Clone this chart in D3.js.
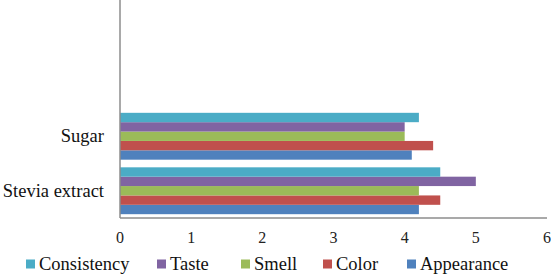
<!DOCTYPE html>
<html>
<head>
<meta charset="utf-8">
<script src="https://cdn.jsdelivr.net/npm/d3@7"></script>
<style>
  body { margin: 0; background: #fff; }
</style>
</head>
<body>
<svg width="551" height="274"></svg>
<script>
var width = 551, height = 274;

// data
var categories = ["Sugar", "Stevia extract"];
var series = ["Appearance", "Color", "Smell", "Taste", "Consistency"];
var sugarValues = [4.1, 4.4, 4.0, 4.0, 4.2];
var steviaValues = [4.2, 4.5, 4.2, 5.0, 4.5];
var xTicks = [0, 1, 2, 3, 4, 5, 6];
var legendOrder = ["Consistency", "Taste", "Smell", "Color", "Appearance"];

var colors = {
  Appearance: "#4F81BD",
  Color: "#C0504D",
  Smell: "#9BBB59",
  Taste: "#8064A2",
  Consistency: "#4BACC6"
};

var valuesByCat = {
  "Sugar": sugarValues,
  "Stevia extract": steviaValues
};

var font = "'Liberation Serif', 'Times New Roman', 'DejaVu Serif', serif";

var left = 120, right = 547, axisY = 218;
// plot has 4 category slots, only the lower two are in view
var slots = 4;
var step = axisY / slots;

var svg = d3.select("svg");

var x = d3.scaleLinear()
    .domain([0, 6])
    .range([left, right]);

var y = d3.scaleBand()
    .domain(categories)
    .range([axisY - categories.length * step, axisY])
    .paddingInner(0.14)
    .paddingOuter(0.07);

// Consistency drawn on top of each group, Appearance at the bottom
var ySub = d3.scaleBand()
    .domain(series.slice().reverse())
    .range([0, y.bandwidth()]);

// bars
var groups = svg.selectAll("g.cat")
    .data(categories)
    .enter()
    .append("g")
    .attr("class", "cat")
    .attr("transform", d => `translate(0,${y(d)})`);

groups.selectAll("rect")
    .data(c => series.map((s, i) => ({ s: s, v: valuesByCat[c][i] })))
    .enter()
    .append("rect")
    .attr("x", x(0))
    .attr("y", d => ySub(d.s))
    .attr("width", d => x(d.v) - x(0))
    .attr("height", ySub.bandwidth())
    .attr("fill", d => colors[d.s]);

// axis lines
svg.append("line")
    .attr("x1", x(0)).attr("x2", x(0))
    .attr("y1", 0).attr("y2", axisY)
    .attr("stroke", "#8c8c8c")
    .attr("stroke-width", 1.5);

svg.append("line")
    .attr("x1", x(0)).attr("x2", x(6))
    .attr("y1", axisY).attr("y2", axisY)
    .attr("stroke", "#8c8c8c")
    .attr("stroke-width", 1.5);

// x tick labels
svg.selectAll("text.xt")
    .data(xTicks)
    .enter()
    .append("text")
    .attr("class", "xt")
    .attr("x", d => x(d))
    .attr("y", 243)
    .attr("text-anchor", "middle")
    .attr("font-family", font)
    .attr("font-size", 16)
    .attr("fill", "#222")
    .text(d => d);

// category labels
svg.selectAll("text.cat")
    .data(categories)
    .enter()
    .append("text")
    .attr("class", "cat")
    .attr("x", 104)
    .attr("y", d => y(d) + y.bandwidth() / 2)
    .attr("dy", "0.33em")
    .attr("text-anchor", "end")
    .attr("font-family", font)
    .attr("font-size", 18.5)
    .attr("fill", "#111")
    .text(d => d);

// legend
var legendX = [26, 157, 241, 323, 407];
var legend = svg.selectAll("g.leg")
    .data(legendOrder)
    .enter()
    .append("g")
    .attr("class", "leg")
    .attr("transform", (d, i) => `translate(${legendX[i]},264)`);

legend.append("rect")
    .attr("x", 0).attr("y", -4.5)
    .attr("width", 9).attr("height", 9)
    .attr("fill", d => colors[d]);

legend.append("text")
    .attr("x", 13)
    .attr("y", 6)
    .attr("font-family", font)
    .attr("font-size", 18.5)
    .attr("fill", "#111")
    .text(d => d);
</script>
</body>
</html>
